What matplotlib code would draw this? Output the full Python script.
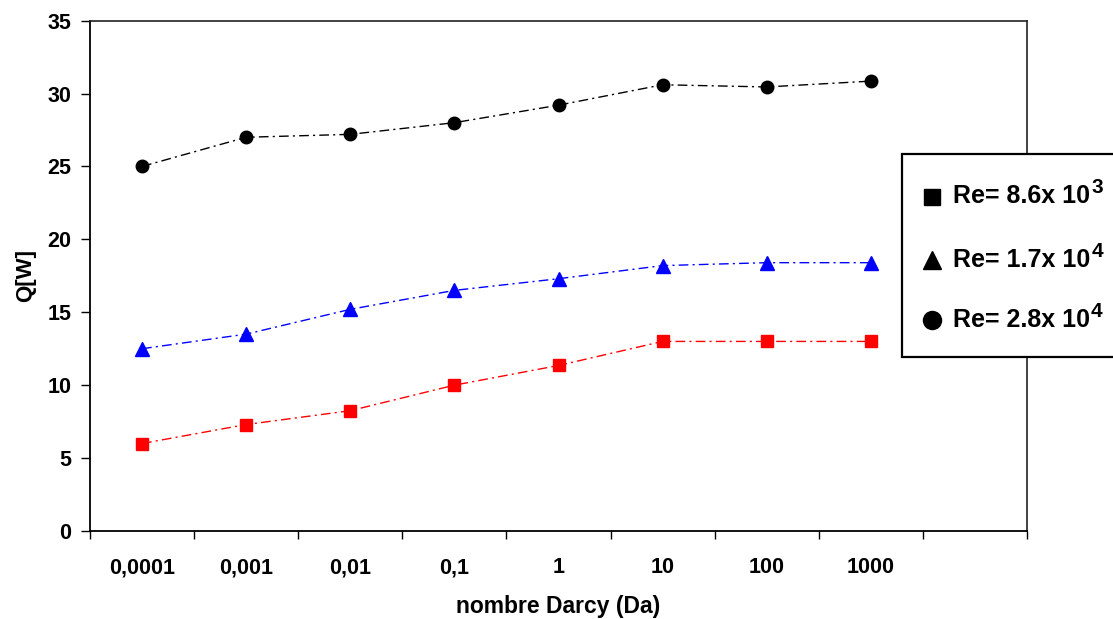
import matplotlib
matplotlib.use("Agg")
import matplotlib.pyplot as plt
from matplotlib.patches import Rectangle
from matplotlib.lines import Line2D

# Darcy numbers (category axis) and heat transfer rate Q [W] per Reynolds number
darcy_labels = ["0,0001", "0,001", "0,01", "0,1", "1", "10", "100", "1000"]
q_re_86e3 = [6.0, 7.3, 8.25, 10.0, 11.35, 13.0, 13.0, 13.0]
q_re_17e4 = [12.5, 13.5, 15.2, 16.5, 17.3, 18.2, 18.4, 18.4]
q_re_28e4 = [25.0, 27.0, 27.2, 28.0, 29.2, 30.6, 30.45, 30.85]

legend_main = ["Re= 8.6x 10", "Re= 1.7x 10", "Re= 2.8x 10"]
legend_exp = ["3", "4", "4"]

y_ticks = [0, 5, 10, 15, 20, 25, 30, 35]
n_slots = 9  # category slots on the x axis (last one left empty)

W, H = 1113, 619
fig = plt.figure(figsize=(W / 100, H / 100), dpi=100)
fig.patch.set_facecolor("white")

def fx(px):
    return px / W

def fy(py):
    return 1 - py / H

ax = fig.add_axes([fx(90), fy(531), fx(1027) - fx(90), fy(20.6) - fy(531)])

xs = list(range(len(darcy_labels)))
dash = (0, (7, 3, 1.5, 3))
ax.plot(xs, q_re_86e3, color="#FF0000", linestyle=dash, lw=1.0,
        marker="s", markersize=8.5, markeredgecolor="#FF0000", zorder=3)
ax.plot(xs, q_re_17e4, color="#0000FF", linestyle=dash, lw=1.0,
        marker="^", markersize=9.5, markeredgecolor="#0000FF", zorder=3)
ax.plot(xs, q_re_28e4, color="black", linestyle=dash, lw=1.0,
        marker="o", markersize=9, markeredgecolor="black", zorder=3)

ax.set_xlim(-0.5, n_slots - 0.5)
ax.set_ylim(0, 35)

sans = ["Liberation Sans", "DejaVu Sans"]
tick_font = dict(family=sans, weight="bold", size=15.5)

# slot boundaries carry the tick marks, slot centres carry the labels
ax.set_xticks([i - 0.5 for i in range(n_slots + 1)])
ax.set_xticklabels([])
ax.set_xticks(xs, minor=True)
ax.set_xticklabels(darcy_labels, minor=True, fontdict=tick_font)
ax.tick_params(axis="x", which="major", direction="out", length=6, width=1.0, color="black")
ax.tick_params(axis="x", which="minor", length=0, pad=19)

ax.set_yticks(y_ticks)
ax.set_yticklabels([str(v) for v in y_ticks], fontdict=tick_font)
ax.tick_params(axis="y", direction="out", length=6.5, width=1.0, pad=7, color="black")

for side in ["left", "bottom"]:
    ax.spines[side].set_linewidth(1.3)
    ax.spines[side].set_color("black")
for side in ["top", "right"]:
    ax.spines[side].set_linewidth(1.2)
    ax.spines[side].set_color("#222222")

ax.set_xlabel("nombre Darcy (Da)", family=sans, weight="bold", size=16.5, labelpad=12)
ax.set_ylabel("Q[W]", family=sans, weight="bold", size=16, labelpad=8)

# Legend box (runs past the right edge of the figure)
box = Rectangle((fx(902), fy(357)), fx(1200) - fx(902), fy(154) - fy(357),
                transform=fig.transFigure, facecolor="white", edgecolor="black",
                lw=1.6, zorder=5)
fig.patches.append(box)

legend_markers = ["s", "^", "o"]
marker_sizes = [12, 13, 13]
row_base = [203, 267, 327]
row_mid = [197, 260, 320]

mains = []
for mk, ms, yb, ym, txt in zip(legend_markers, marker_sizes, row_base, row_mid, legend_main):
    fig.lines.append(Line2D([fx(932)], [fy(ym)], transform=fig.transFigure,
                            marker=mk, markersize=ms, color="black",
                            linestyle="none", zorder=6))
    t = fig.text(fx(953), fy(yb), txt, family=sans, weight="bold",
                 size=18, va="baseline", ha="left", zorder=6)
    mains.append(t)

fig.canvas.draw()
renderer = fig.canvas.get_renderer()
for t, yb, e in zip(mains, row_base, legend_exp):
    bb = t.get_window_extent(renderer)
    fig.text(bb.x1 / W + 1 / W, fy(yb - 10), e, family=sans, weight="bold",
             size=15, va="baseline", ha="left", zorder=6)

fig.savefig("out.png", dpi=100, facecolor="white")
